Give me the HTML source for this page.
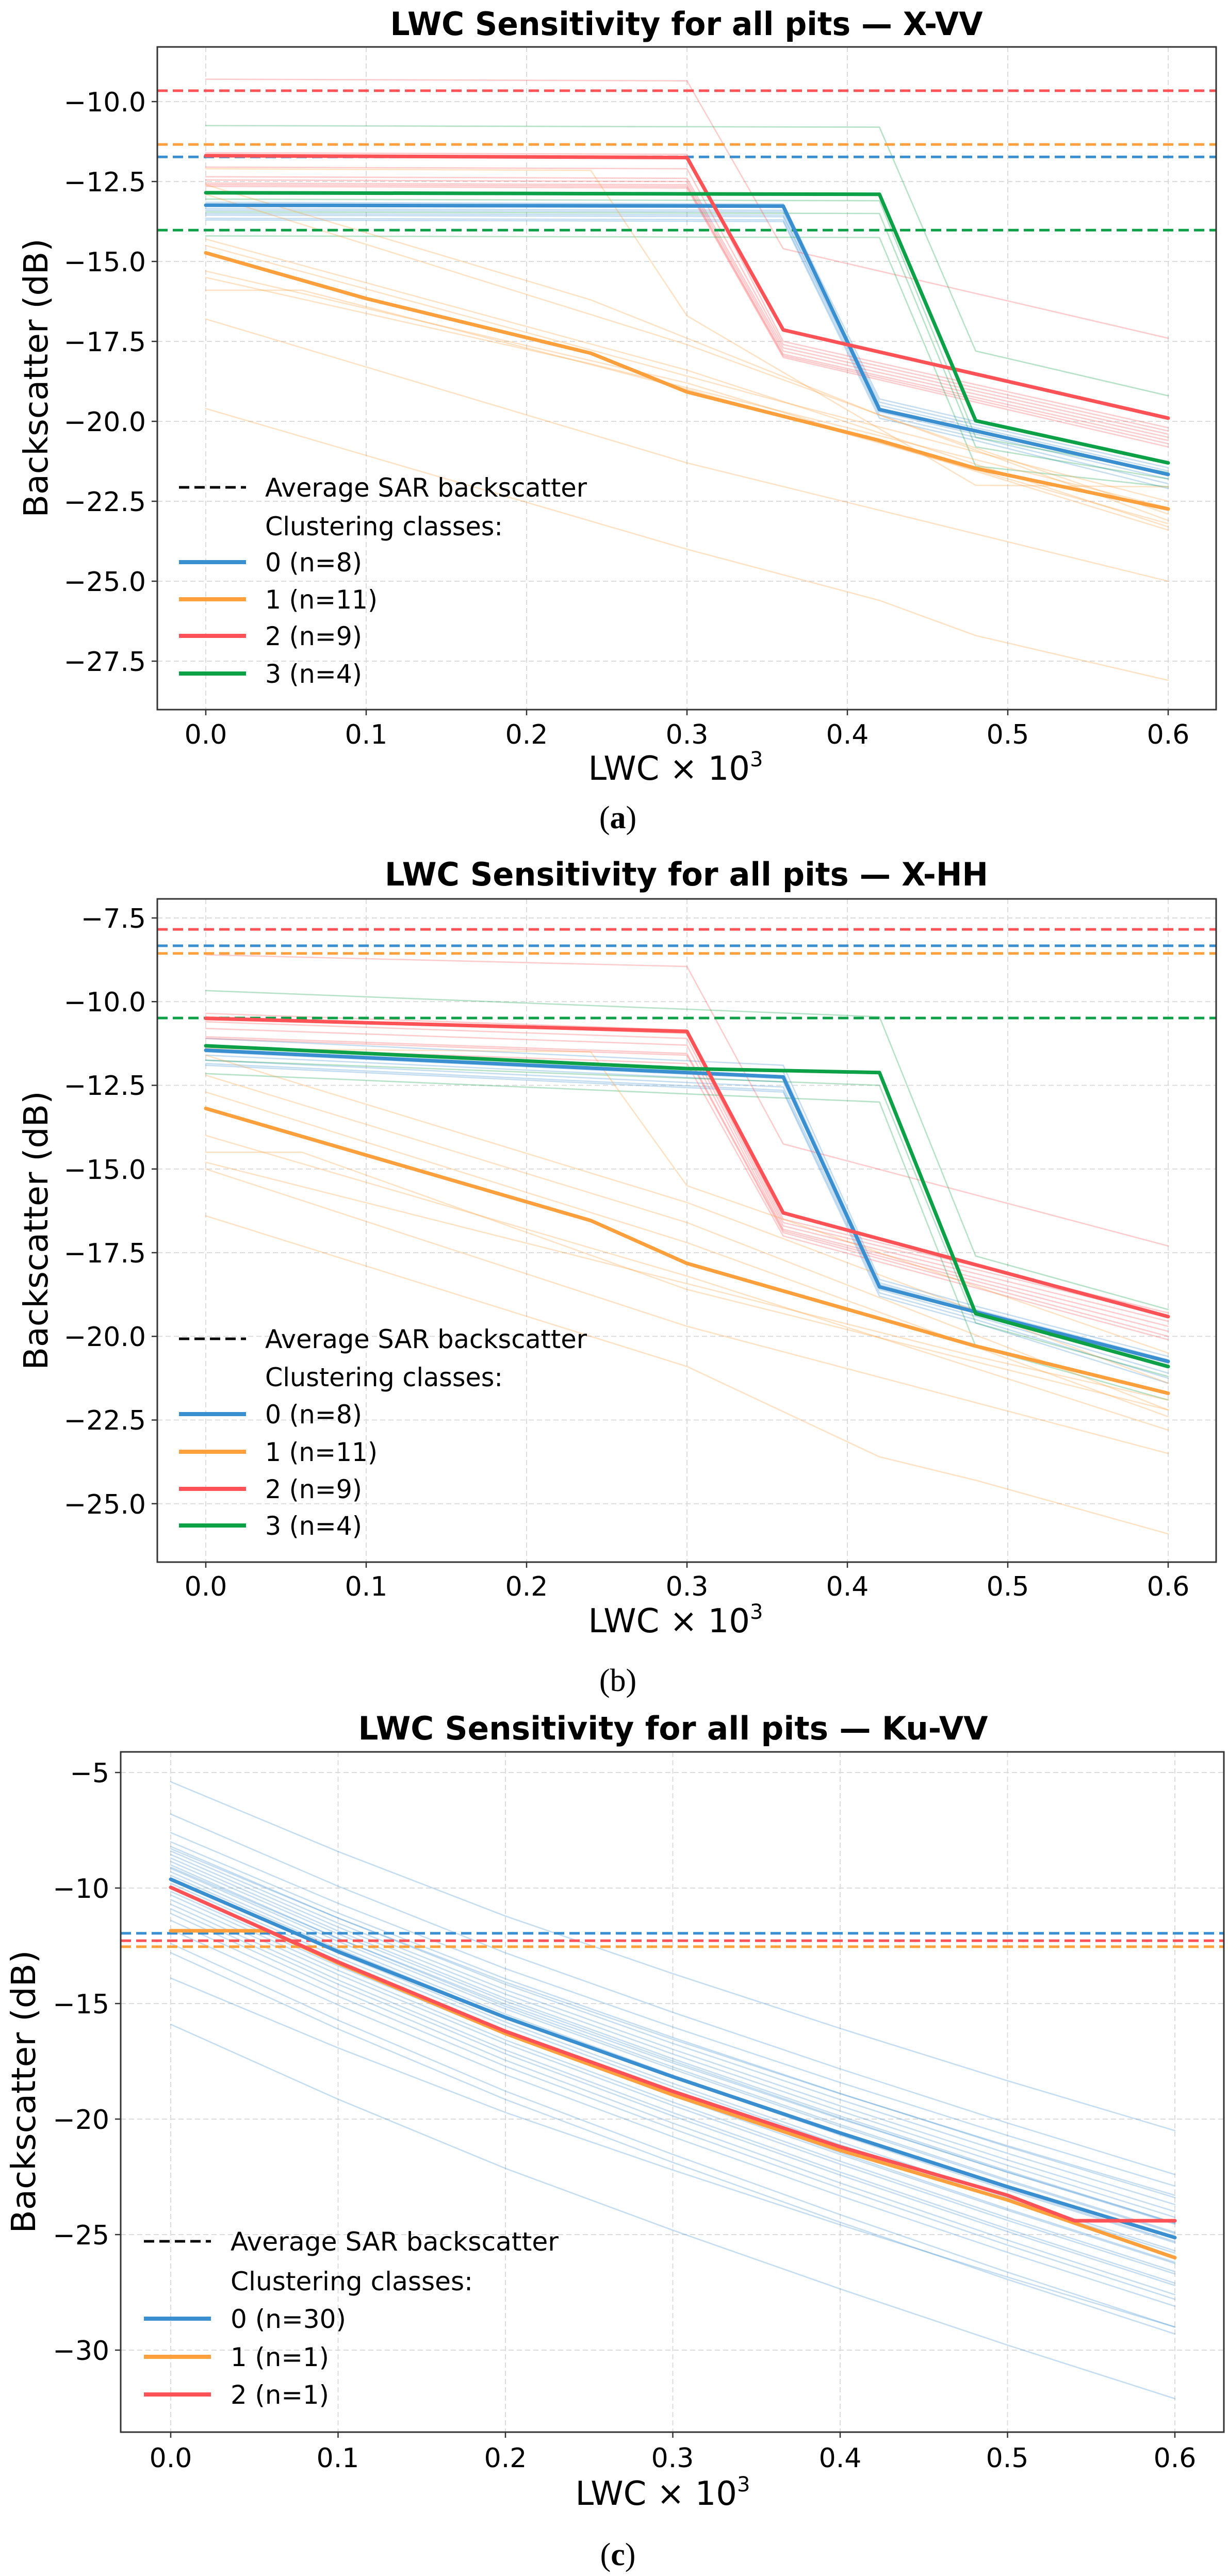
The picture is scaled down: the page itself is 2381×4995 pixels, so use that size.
<!DOCTYPE html>
<html><head><meta charset="utf-8">
<style>
html,body{margin:0;padding:0;background:#fff;}
svg{display:block;}
text{font-family:"DejaVu Sans","Liberation Sans",sans-serif;fill:#000;}
.tk{font-size:52px;}
.tt{font-size:62px;font-weight:bold;}
.lb{font-size:64px;}
.lg{font-size:50px;}
.pl{font-family:"Liberation Serif",serif;font-size:62px;}
</style></head>
<body>
<svg id="s" width="2381" height="4995" viewBox="0 0 2381 4995" xmlns="http://www.w3.org/2000/svg">
<defs>
<clipPath id="ca"><rect x="305" y="91" width="2053" height="1285"/></clipPath>
<clipPath id="cb"><rect x="305" y="1743" width="2053" height="1286"/></clipPath>
<clipPath id="cc"><rect x="234" y="3397" width="2139" height="1319"/></clipPath>
</defs>
<g id="grid"></g>
<g id="da" clip-path="url(#ca)"></g>
<g id="db" clip-path="url(#cb)"></g>
<g id="dc" clip-path="url(#cc)"></g>
<g id="frames"></g>

<!-- Panel a text -->
<text class="tt" x="1331" y="68" text-anchor="middle" textLength="1149" lengthAdjust="spacingAndGlyphs">LWC Sensitivity for all pits — X-VV</text>
<g class="tk" text-anchor="end">
<text x="283" y="216">−10.0</text><text x="283" y="371">−12.5</text><text x="283" y="526">−15.0</text><text x="283" y="681">−17.5</text>
<text x="283" y="836">−20.0</text><text x="283" y="991">−22.5</text><text x="283" y="1146">−25.0</text><text x="283" y="1301">−27.5</text>
</g>
<g class="tk" text-anchor="middle">
<text x="399" y="1442">0.0</text><text x="710" y="1442">0.1</text><text x="1021" y="1442">0.2</text><text x="1332" y="1442">0.3</text>
<text x="1643" y="1442">0.4</text><text x="1954" y="1442">0.5</text><text x="2265" y="1442">0.6</text>
</g>
<text class="lb" x="1310" y="1512" text-anchor="middle">LWC × 10<tspan font-size="40" dy="-26">3</tspan></text>
<text class="lb" transform="translate(92,733) rotate(-90)" text-anchor="middle" textLength="541" lengthAdjust="spacingAndGlyphs">Backscatter (dB)</text>
<g class="lg">
<text x="514" y="963" textLength="624" lengthAdjust="spacingAndGlyphs">Average SAR backscatter</text>
<text x="514" y="1038" textLength="461" lengthAdjust="spacingAndGlyphs">Clustering classes:</text>
<text x="514" y="1108" textLength="188" lengthAdjust="spacingAndGlyphs">0 (n=8)</text>
<text x="514" y="1180" textLength="218" lengthAdjust="spacingAndGlyphs">1 (n=11)</text>
<text x="514" y="1251" textLength="188" lengthAdjust="spacingAndGlyphs">2 (n=9)</text>
<text x="514" y="1324" textLength="188" lengthAdjust="spacingAndGlyphs">3 (n=4)</text>
</g>
<text class="pl" x="1198" y="1606" text-anchor="middle">(<tspan font-weight="bold">a</tspan>)</text>

<!-- Panel b text -->
<text class="tt" x="1331" y="1717" text-anchor="middle" textLength="1170" lengthAdjust="spacingAndGlyphs">LWC Sensitivity for all pits — X-HH</text>
<g class="tk" text-anchor="end">
<text x="283" y="1799">−7.5</text><text x="283" y="1961">−10.0</text><text x="283" y="2123">−12.5</text><text x="283" y="2286">−15.0</text>
<text x="283" y="2448">−17.5</text><text x="283" y="2610">−20.0</text><text x="283" y="2772">−22.5</text><text x="283" y="2935">−25.0</text>
</g>
<g class="tk" text-anchor="middle">
<text x="399" y="3094">0.0</text><text x="710" y="3094">0.1</text><text x="1021" y="3094">0.2</text><text x="1332" y="3094">0.3</text>
<text x="1643" y="3094">0.4</text><text x="1954" y="3094">0.5</text><text x="2265" y="3094">0.6</text>
</g>
<text class="lb" x="1310" y="3165" text-anchor="middle">LWC × 10<tspan font-size="40" dy="-26">3</tspan></text>
<text class="lb" transform="translate(92,2386) rotate(-90)" text-anchor="middle" textLength="541" lengthAdjust="spacingAndGlyphs">Backscatter (dB)</text>
<g class="lg">
<text x="514" y="2614" textLength="624" lengthAdjust="spacingAndGlyphs">Average SAR backscatter</text>
<text x="514" y="2688" textLength="461" lengthAdjust="spacingAndGlyphs">Clustering classes:</text>
<text x="514" y="2760" textLength="188" lengthAdjust="spacingAndGlyphs">0 (n=8)</text>
<text x="514" y="2833" textLength="218" lengthAdjust="spacingAndGlyphs">1 (n=11)</text>
<text x="514" y="2905" textLength="188" lengthAdjust="spacingAndGlyphs">2 (n=9)</text>
<text x="514" y="2976" textLength="188" lengthAdjust="spacingAndGlyphs">3 (n=4)</text>
</g>
<text class="pl" x="1198" y="3279" text-anchor="middle">(b)</text>

<!-- Panel c text -->
<text class="tt" x="1305" y="3373" text-anchor="middle" textLength="1221" lengthAdjust="spacingAndGlyphs">LWC Sensitivity for all pits — Ku-VV</text>
<g class="tk" text-anchor="end">
<text x="212" y="3456">−5</text><text x="212" y="3680">−10</text><text x="212" y="3904">−15</text>
<text x="212" y="4128">−20</text><text x="212" y="4352">−25</text><text x="212" y="4576">−30</text>
</g>
<g class="tk" text-anchor="middle">
<text x="331" y="4784">0.0</text><text x="655" y="4784">0.1</text><text x="980" y="4784">0.2</text><text x="1304" y="4784">0.3</text>
<text x="1629" y="4784">0.4</text><text x="1953" y="4784">0.5</text><text x="2278" y="4784">0.6</text>
</g>
<text class="lb" x="1285" y="4857" text-anchor="middle">LWC × 10<tspan font-size="40" dy="-26">3</tspan></text>
<text class="lb" transform="translate(68,4056) rotate(-90)" text-anchor="middle" textLength="549" lengthAdjust="spacingAndGlyphs">Backscatter (dB)</text>
<g class="lg">
<text x="447" y="4364" textLength="636" lengthAdjust="spacingAndGlyphs">Average SAR backscatter</text>
<text x="447" y="4441" textLength="470" lengthAdjust="spacingAndGlyphs">Clustering classes:</text>
<text x="447" y="4514" textLength="224" lengthAdjust="spacingAndGlyphs">0 (n=30)</text>
<text x="447" y="4588" textLength="191" lengthAdjust="spacingAndGlyphs">1 (n=1)</text>
<text x="447" y="4661" textLength="191" lengthAdjust="spacingAndGlyphs">2 (n=1)</text>
</g>
<text class="pl" x="1198" y="4974" text-anchor="middle">(<tspan font-weight="bold">c</tspan>)</text>
<g id="leg"></g>
</svg>
<script>
(function(){
var NS="http://www.w3.org/2000/svg";
var C={b:"#3a8fd0",o:"#ffa03c",r:"#ff5257",g:"#0ca047"};
function el(p,t,a){var e=document.createElementNS(NS,t);for(var k in a)e.setAttribute(k,a[k]);p.appendChild(e);return e;}
var G=document.getElementById("grid"),F=document.getElementById("frames"),L=document.getElementById("leg");
var P={
a:{x0:399,sx:3110,y0:197,yv:-10,sy:62,l:305,r:2358,t:91,bt:1376,g:document.getElementById("da"),
  yt:[-10,-12.5,-15,-17.5,-20,-22.5,-25,-27.5],xt:[0,.1,.2,.3,.4,.5,.6]},
b:{x0:399,sx:3110,y0:1780,yv:-7.5,sy:64.9,l:305,r:2358,t:1743,bt:3029,g:document.getElementById("db"),
  yt:[-7.5,-10,-12.5,-15,-17.5,-20,-22.5,-25],xt:[0,.1,.2,.3,.4,.5,.6]},
c:{x0:331,sx:3245,y0:3437,yv:-5,sy:44.8,l:234,r:2373,t:3397,bt:4716,g:document.getElementById("dc"),
  yt:[-5,-10,-15,-20,-25,-30],xt:[0,.1,.2,.3,.4,.5,.6]}};
function X(p,v){return p.x0+v*p.sx;}
function Y(p,d){return p.y0-(d-p.yv)*p.sy;}
for(var k in P){var p=P[k];
  p.yt.forEach(function(d){var y=Y(p,d);
    el(G,"line",{x1:p.l,x2:p.r,y1:y,y2:y,stroke:"#dcdcdc","stroke-width":2,"stroke-dasharray":"10 6"});
    el(F,"line",{x1:p.l-11,x2:p.l,y1:y,y2:y,stroke:"#333","stroke-width":2.5});});
  p.xt.forEach(function(v){var x=X(p,v);
    el(G,"line",{x1:x,x2:x,y1:p.t,y2:p.bt,stroke:"#dcdcdc","stroke-width":2,"stroke-dasharray":"10 6"});
    el(F,"line",{x1:x,x2:x,y1:p.bt,y2:p.bt+11,stroke:"#333","stroke-width":2.5});});
  el(F,"rect",{x:p.l,y:p.t,width:p.r-p.l,height:p.bt-p.t,fill:"none",stroke:"#333","stroke-width":3});
}
function line(p,pts,col,w,op){
  var s=pts.map(function(q){return X(p,q[0]).toFixed(1)+","+Y(p,q[1]).toFixed(1);}).join(" ");
  el(p.g,"polyline",{points:s,fill:"none",stroke:col,"stroke-width":w,"stroke-opacity":op,"stroke-linejoin":"round","stroke-linecap":"round"});
}
function thin(p,arr,col){arr.forEach(function(a){line(p,a,col,2.6,0.3);});}
function hdash(p,d,col){var y=Y(p,d);el(p.g,"line",{x1:p.l,x2:p.r,y1:y,y2:y,stroke:col,"stroke-width":5,"stroke-dasharray":"20 10"});}

/* ---------- Panel a ---------- */
var a=P.a;
var bs=[-13.15,-13.35,-13.4,-13.5,-13.55,-13.65,-13.7],bm=[-19.3,-19.4,-19.5,-19.6,-19.7,-19.8,-19.9],be=[-21.3,-21.45,-21.55,-21.7,-21.8,-21.95,-22.1];
thin(a,bs.map(function(s,i){return [[0,s],[0.36,s-0.05],[0.42,bm[i]],[0.48,bm[i]-0.7],[0.6,be[i]]];}),C.b);
var rs=[-11.6,-12.05,-12.35,-12.45,-12.55,-12.6,-12.65],rm=[-17.5,-17.6,-17.7,-17.8,-17.9,-17.95,-18.0],re=[-20.2,-20.3,-20.4,-20.5,-20.6,-20.7,-20.8];
var ar=rs.map(function(s,i){return [[0,s],[0.3,s-0.05],[0.36,rm[i]],[0.6,re[i]]];});
ar.push([[0,-9.3],[0.3,-9.35],[0.36,-14.6],[0.6,-17.4]]);
thin(a,ar,C.r);
thin(a,[[[0,-10.75],[0.42,-10.8],[0.48,-17.8],[0.6,-19.2]],[[0,-13.05],[0.42,-13.1],[0.48,-20.5],[0.6,-21.6]],[[0,-13.45],[0.42,-13.5],[0.48,-20.8],[0.6,-21.8]],[[0,-14.2],[0.42,-14.25],[0.48,-21.4],[0.6,-22.05]]],C.g);
thin(a,[[[0,-12.1],[0.24,-12.15],[0.3,-16.7],[0.48,-22.0],[0.6,-22.05]],
 [[0,-12.6],[0.24,-16.2],[0.42,-19.8],[0.6,-22.9]],[[0,-12.9],[0.3,-17.6],[0.6,-23.1]],
 [[0,-14.3],[0.3,-18.4],[0.6,-23.3]],[[0,-15.3],[0.3,-18.8],[0.6,-23.4]],[[0,-15.5],[0.24,-18.2],[0.6,-22.7]],
 [[0,-15.9],[0.06,-15.9],[0.3,-19],[0.6,-23.2]],[[0,-16.8],[0.3,-21.3],[0.6,-25.0]],
 [[0,-19.6],[0.3,-24.0],[0.42,-25.6],[0.48,-26.7],[0.6,-28.1]],[[0,-14.5],[0.36,-19.4],[0.6,-22.5]]],C.o);
hdash(a,-9.66,C.r);hdash(a,-11.34,C.o);hdash(a,-11.73,C.b);hdash(a,-14.02,C.g);
line(a,[[0,-14.73],[0.1,-16.16],[0.24,-17.87],[0.3,-19.08],[0.42,-20.6],[0.48,-21.47],[0.6,-22.74]],C.o,7,1);
line(a,[[0,-13.24],[0.36,-13.27],[0.42,-19.63],[0.48,-20.3],[0.6,-21.66]],C.b,7,1);
line(a,[[0,-11.69],[0.3,-11.75],[0.36,-17.14],[0.6,-19.9]],C.r,7,1);
line(a,[[0,-12.85],[0.42,-12.9],[0.48,-19.98],[0.6,-21.3]],C.g,7,1);

/* ---------- Panel b ---------- */
var b=P.b;
var bs2=[-11.1,-11.3,-11.5,-11.6,-11.75,-11.85,-11.9],bm2=[-18.3,-18.4,-18.45,-18.5,-18.6,-18.7,-18.8],be2=[-20.6,-20.7,-20.8,-20.95,-21.1,-21.25,-21.4];
thin(b,bs2.map(function(s,i){return [[0,s],[0.36,s-0.8],[0.42,bm2[i]],[0.48,bm2[i]-0.8],[0.6,be2[i]]];}),C.b);
var rs2=[-10.35,-10.45,-10.6,-10.8,-11.05,-11.1,-11.35],rm2=[-16.5,-16.6,-16.7,-16.8,-16.85,-16.9,-17.0],re2=[-19.3,-19.4,-19.55,-19.7,-19.85,-20.0,-20.1];
var br=rs2.map(function(s,i){return [[0,s],[0.3,s-0.5],[0.36,rm2[i]],[0.6,re2[i]]];});
br.push([[0,-8.6],[0.3,-8.95],[0.36,-14.25],[0.6,-17.3]]);
thin(b,br,C.r);
thin(b,[[[0,-9.67],[0.42,-10.45],[0.48,-17.6],[0.6,-19.2]],[[0,-11.75],[0.42,-12.5],[0.48,-19.6],[0.6,-21.2]],[[0,-12.15],[0.42,-13.0],[0.48,-20.3],[0.6,-21.9]]],C.g);
thin(b,[[[0,-11.4],[0.24,-11.5],[0.3,-15.5],[0.6,-20.5]],[[0,-11.6],[0.3,-16],[0.6,-21.4]],[[0,-12.2],[0.3,-16.6],[0.6,-22.2]],
 [[0,-12.7],[0.3,-17.2],[0.6,-22.4]],[[0,-14.0],[0.3,-18.2],[0.6,-22.8]],[[0,-14.5],[0.06,-14.5],[0.3,-18.6],[0.6,-22.2]],
 [[0,-15.0],[0.3,-19.7],[0.6,-23.5]],[[0,-16.4],[0.3,-20.9],[0.42,-23.6],[0.48,-24.3],[0.6,-25.9]],[[0,-14.8],[0.48,-20.6],[0.6,-21.9]]],C.o);
hdash(b,-7.84,C.r);hdash(b,-8.33,C.b);hdash(b,-8.56,C.o);hdash(b,-10.49,C.g);
line(b,[[0,-13.19],[0.24,-16.54],[0.3,-17.82],[0.48,-20.29],[0.6,-21.7]],C.o,7,1);
line(b,[[0,-11.45],[0.36,-12.25],[0.42,-18.52],[0.48,-19.27],[0.6,-20.75]],C.b,7,1);
line(b,[[0,-10.5],[0.3,-10.89],[0.36,-16.31],[0.6,-19.41]],C.r,7,1);
line(b,[[0,-11.32],[0.3,-12.0],[0.42,-12.12],[0.48,-19.32],[0.6,-20.9]],C.g,7,1);

/* ---------- Panel c ---------- */
var c=P.c;
var prof=[[0,0],[0.1,0.2],[0.2,0.385],[0.3,0.55],[0.4,0.707],[0.5,0.857],[0.6,1]];
var st=[-5.4,-6.8,-7.6,-8.0,-8.2,-8.4,-8.55,-8.7,-8.85,-9.0,-9.15,-9.3,-9.45,-9.6,-9.8,-10.0,-10.15,-10.3,-10.5,-10.7,-10.9,-11.1,-11.4,-11.8,-12.4,-12.8,-13.9,-15.9,-8.3,-9.1];
var dr=[15.1,15.6,15.3,15.4,15.5,15.6,15.7,15.8,15.7,15.9,15.8,16.0,15.9,16.1,16.0,16.2,16.1,16.3,16.2,16.4,16.3,16.5,16.4,16.3,16.6,16.5,15.1,16.2,15.0,15.4];
thin(c,st.map(function(s,i){return prof.map(function(q){return [q[0],s-dr[i]*q[1]];});}),C.b);
hdash(c,-11.96,C.b);hdash(c,-12.28,C.r);hdash(c,-12.54,C.o);
line(c,[[0,-11.85],[0.058,-11.85],[0.1,-13.25],[0.2,-16.3],[0.3,-18.95],[0.4,-21.35],[0.5,-23.5],[0.6,-26.0]],C.o,7,1);
line(c,[[0,-9.62],[0.1,-12.75],[0.2,-15.6],[0.3,-18.17],[0.4,-20.6],[0.5,-22.93],[0.6,-25.13]],C.b,7,1);
line(c,[[0,-9.97],[0.1,-13.2],[0.2,-16.2],[0.3,-18.8],[0.4,-21.2],[0.5,-23.3],[0.54,-24.4],[0.6,-24.4]],C.r,7,1);

/* ---------- Legends ---------- */
function leg(x1,x2,ys,cols){
  el(L,"line",{x1:x1,x2:x2,y1:ys[0],y2:ys[0],stroke:"#000","stroke-width":5,"stroke-dasharray":"20 10"});
  cols.forEach(function(col,i){el(L,"line",{x1:x1,x2:x2,y1:ys[i+2],y2:ys[i+2],stroke:col,"stroke-width":8});});
}
leg(347,477,[945,1020,1090,1162,1233,1306],[C.b,C.o,C.r,C.g]);
leg(347,477,[2596,2670,2742,2815,2887,2958],[C.b,C.o,C.r,C.g]);
leg(279,409,[4346,4423,4496,4570,4643],[C.b,C.o,C.r]);
})();
</script>
</body></html>
